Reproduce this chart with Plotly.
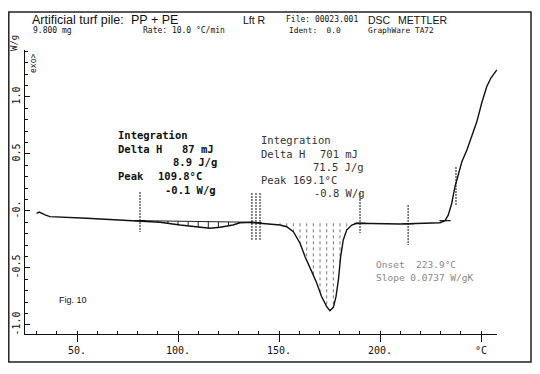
import numpy as np
import plotly.graph_objects as go

# ---- data ----
temp_c = [30.0, 31.3, 34.2, 36.6, 54.8, 81.2, 91.1, 101.0, 110.9, 115.8, 120.8, 127.2,
          130.7, 137.1, 140.6, 145.5, 150.5, 153.8, 157.1, 160.4, 162.9, 166.2, 168.7,
          171.1, 173.6, 175.2, 176.9, 178.2, 179.4, 180.5, 181.8, 183.5, 186.0, 188.5,
          190.9, 209.9, 229.7, 232.2, 233.8, 235.5, 237.1, 238.9, 240.5, 243.0, 245.4,
          247.9, 250.3, 252.8, 254.8, 257.8]
heat_flow = [-0.020, -0.009, -0.035, -0.050, -0.064, -0.085, -0.099, -0.123, -0.143,
             -0.152, -0.143, -0.123, -0.103, -0.099, -0.108, -0.114, -0.123, -0.138,
             -0.182, -0.283, -0.401, -0.532, -0.634, -0.752, -0.839, -0.875, -0.845,
             -0.752, -0.605, -0.401, -0.254, -0.167, -0.123, -0.108, -0.108, -0.114,
             -0.103, -0.085, -0.035, 0.068, 0.213, 0.331, 0.432, 0.535, 0.652, 0.782,
             0.945, 1.090, 1.164, 1.237]

x_tick_vals = [50, 100, 150, 200, 250]
x_tick_text = ["50.", "100.", "150.", "200.", "°C"]
y_tick_vals = [-1.0, -0.5, 0.0, 0.5, 1.0]
y_tick_text = ["-1.0", "-0.5", "-0.", "0.5", "1.0"]

# integration limits (°C) and hatch positions
int1_limits = [81.2, 137.1]
int2_limits = [140.6, 190.9]
hatch1_T = [90, 95, 100, 105, 110, 115, 120, 125, 130]
hatch2_T = [150.5, 153.8, 157.1, 160.4, 163.7, 167.0, 170.3, 173.6, 176.9, 180.2, 183.5]
# vertical limit markers: temperature, top, bottom (W/g)
marker_T = [81.2, 136.6, 138.6, 140.6, 190.1, 213.9, 237.6]
marker_top = [0.167, 0.158, 0.158, 0.158, 0.158, 0.053, 0.386]
marker_bot = [-0.184, -0.254, -0.254, -0.254, -0.193, -0.298, 0.053]
cross_T = [81.2, 138.6, 190.1, 213.9, 232.2]

T = np.array(temp_c)
W = np.array(heat_flow)


def curve_at(t):
    return float(np.interp(t, T, W))


def hatch(ts, limits):
    b0, b1 = curve_at(limits[0]), curve_at(limits[1])
    xs, ys = [], []
    for t in ts:
        base = b0 + (b1 - b0) * (t - limits[0]) / (limits[1] - limits[0])
        xs += [t, t, None]
        ys += [base, curve_at(t), None]
    return xs, ys


fig = go.Figure()

# hatching
hx, hy = hatch(hatch1_T, int1_limits)
fig.add_trace(go.Scatter(x=hx, y=hy, mode="lines", line=dict(color="#222", width=1),
                         hoverinfo="skip", showlegend=False))
bx = [int1_limits[0], int1_limits[1]]
fig.add_trace(go.Scatter(x=bx, y=[curve_at(t) for t in bx], mode="lines",
                         line=dict(color="#222", width=1), showlegend=False))
hx, hy = hatch(hatch2_T, int2_limits)
fig.add_trace(go.Scatter(x=hx, y=hy, mode="lines", line=dict(color="#777", width=1, dash="dot"),
                         hoverinfo="skip", showlegend=False))

# limit markers
mx, my = [], []
for t, a, b in zip(marker_T, marker_top, marker_bot):
    mx += [t, t, None]
    my += [a, b, None]
fig.add_trace(go.Scatter(x=mx, y=my, mode="lines",
                         line=dict(color="#111", width=1, dash="2px,1px"),
                         showlegend=False))
fig.add_trace(go.Scatter(x=cross_T, y=[curve_at(t) for t in cross_T], mode="markers",
                         marker=dict(symbol="line-ew-open", size=8, color="#111",
                                     line=dict(color="#111", width=1.2)),
                         showlegend=False))

# main curve
fig.add_trace(go.Scatter(x=temp_c, y=heat_flow, mode="lines",
                         line=dict(color="#111", width=1.4), showlegend=False))

# ---- layout (page pixel targets; page has an 8px body margin) ----
OFF = 8
W_PX, H_PX = 532, 366
L, R, TOP, BOT = 25 - OFF, 497 - OFF, 50 - OFF, 334 - OFF


def px(x):
    return (x - OFF - L) / (R - L)


def py(y):
    return (BOT - (y - OFF)) / (BOT - TOP)


mono = "DejaVu Sans Mono"
sans = "Liberation Sans"
ann = []


def text(s, x, y, size, family=mono, color="#111", angle=0, xanchor="left"):
    ann.append(dict(text=s, x=px(x), y=py(y), xref="paper", yref="paper",
                    xanchor=xanchor, yanchor="middle", showarrow=False,
                    textangle=angle, font=dict(family=family, size=size, color=color)))


# header
text("Artificial turf pile:", 30, 20, 12.5, sans)
text("PP + PE", 129, 20, 12.5, sans)
text("9.800 mg", 31, 31, 8)
text("Rate: 10.0 °C/min", 141, 31, 8)
text("Lft R", 241, 20, 10.5, sans)
text("File: 00023.001", 284, 20, 8)
text("DSC", 366, 20, 10.5, sans)
text("METTLER", 396, 20, 10.5, sans)
text("Ident:  0.0", 287, 31, 7.8)
text("GraphWare TA72", 366, 31, 7.8)
text("W/g", 14, 43, 9, angle=-90, xanchor="center")
text("exo>", 33, 64, 8, angle=-90, xanchor="center")

# integration block 1 (bold)
b = "<b>%s</b>"
text(b % "Integration", 116, 135, 10.5)
text(b % "Delta H", 116, 149, 10.5)
text(b % "87 mJ", 180, 149, 10.5)
text(b % "8.9 J/g", 171, 162, 10.5)
text(b % "Peak", 116, 176, 10.5)
text(b % "109.8°C", 156, 176, 10.5)
text(b % "-0.1 W/g", 163, 190, 10.5)

# integration block 2 (lighter)
c2 = "#333"
text("Integration", 259, 140, 10.5, color=c2)
text("Delta H", 259, 154, 10.5, color=c2)
text("701 mJ", 318, 154, 10.5, color=c2)
text("71.5 J/g", 311, 167, 10.5, color=c2)
text("Peak", 259, 180, 10.5, color=c2)
text("169.1°C", 291, 180, 10.5, color=c2)
text("-0.8 W/g", 312, 193, 10.5, color=c2)

# onset
text("Onset  223.9°C", 374, 264, 9.5, color="#888")
text("Slope 0.0737 W/gK", 374, 277, 9.5, color="#888")

text("Fig. 10", 57, 300, 9, sans)

# frame
shapes = [dict(type="rect", xref="paper", yref="paper",
               x0=px(8.8), x1=px(531), y0=py(362), y1=py(12),
               line=dict(color="#222", width=1.5))]

fig.update_layout(
    width=W_PX, height=H_PX,
    margin=dict(l=L, r=W_PX - R, t=TOP, b=H_PX - BOT, autoexpand=False),
    paper_bgcolor="white", plot_bgcolor="white",
    annotations=ann, shapes=shapes, showlegend=False,
    xaxis=dict(range=[24.26, 257.9], showgrid=False, zeroline=False, automargin=False,
               showline=True, linecolor="#111", linewidth=1.2,
               tickmode="array", tickvals=x_tick_vals, ticktext=x_tick_text,
               ticks="outside", ticklen=7, tickcolor="#111", tickwidth=1.2,
               tickfont=dict(family=mono, size=10, color="#111"),
               minor=dict(tickmode="linear", tick0=0, dtick=10, ticks="inside",
                          ticklen=3, tickcolor="#111", showgrid=False)),
    yaxis=dict(range=[-1.079, 1.412], showgrid=False, zeroline=False, automargin=False,
               showline=True, linecolor="#111", linewidth=1.2,
               tickmode="array", tickvals=y_tick_vals, ticktext=y_tick_text,
               ticks="inside", ticklen=5, tickcolor="#111", tickwidth=1.2,
               tickangle=-90,
               tickfont=dict(family=mono, size=10, color="#111"),
               minor=dict(tickmode="linear", tick0=0, dtick=0.1, ticks="inside",
                          ticklen=3, tickcolor="#111", showgrid=False)),
)

fig.write_html("out.html")
